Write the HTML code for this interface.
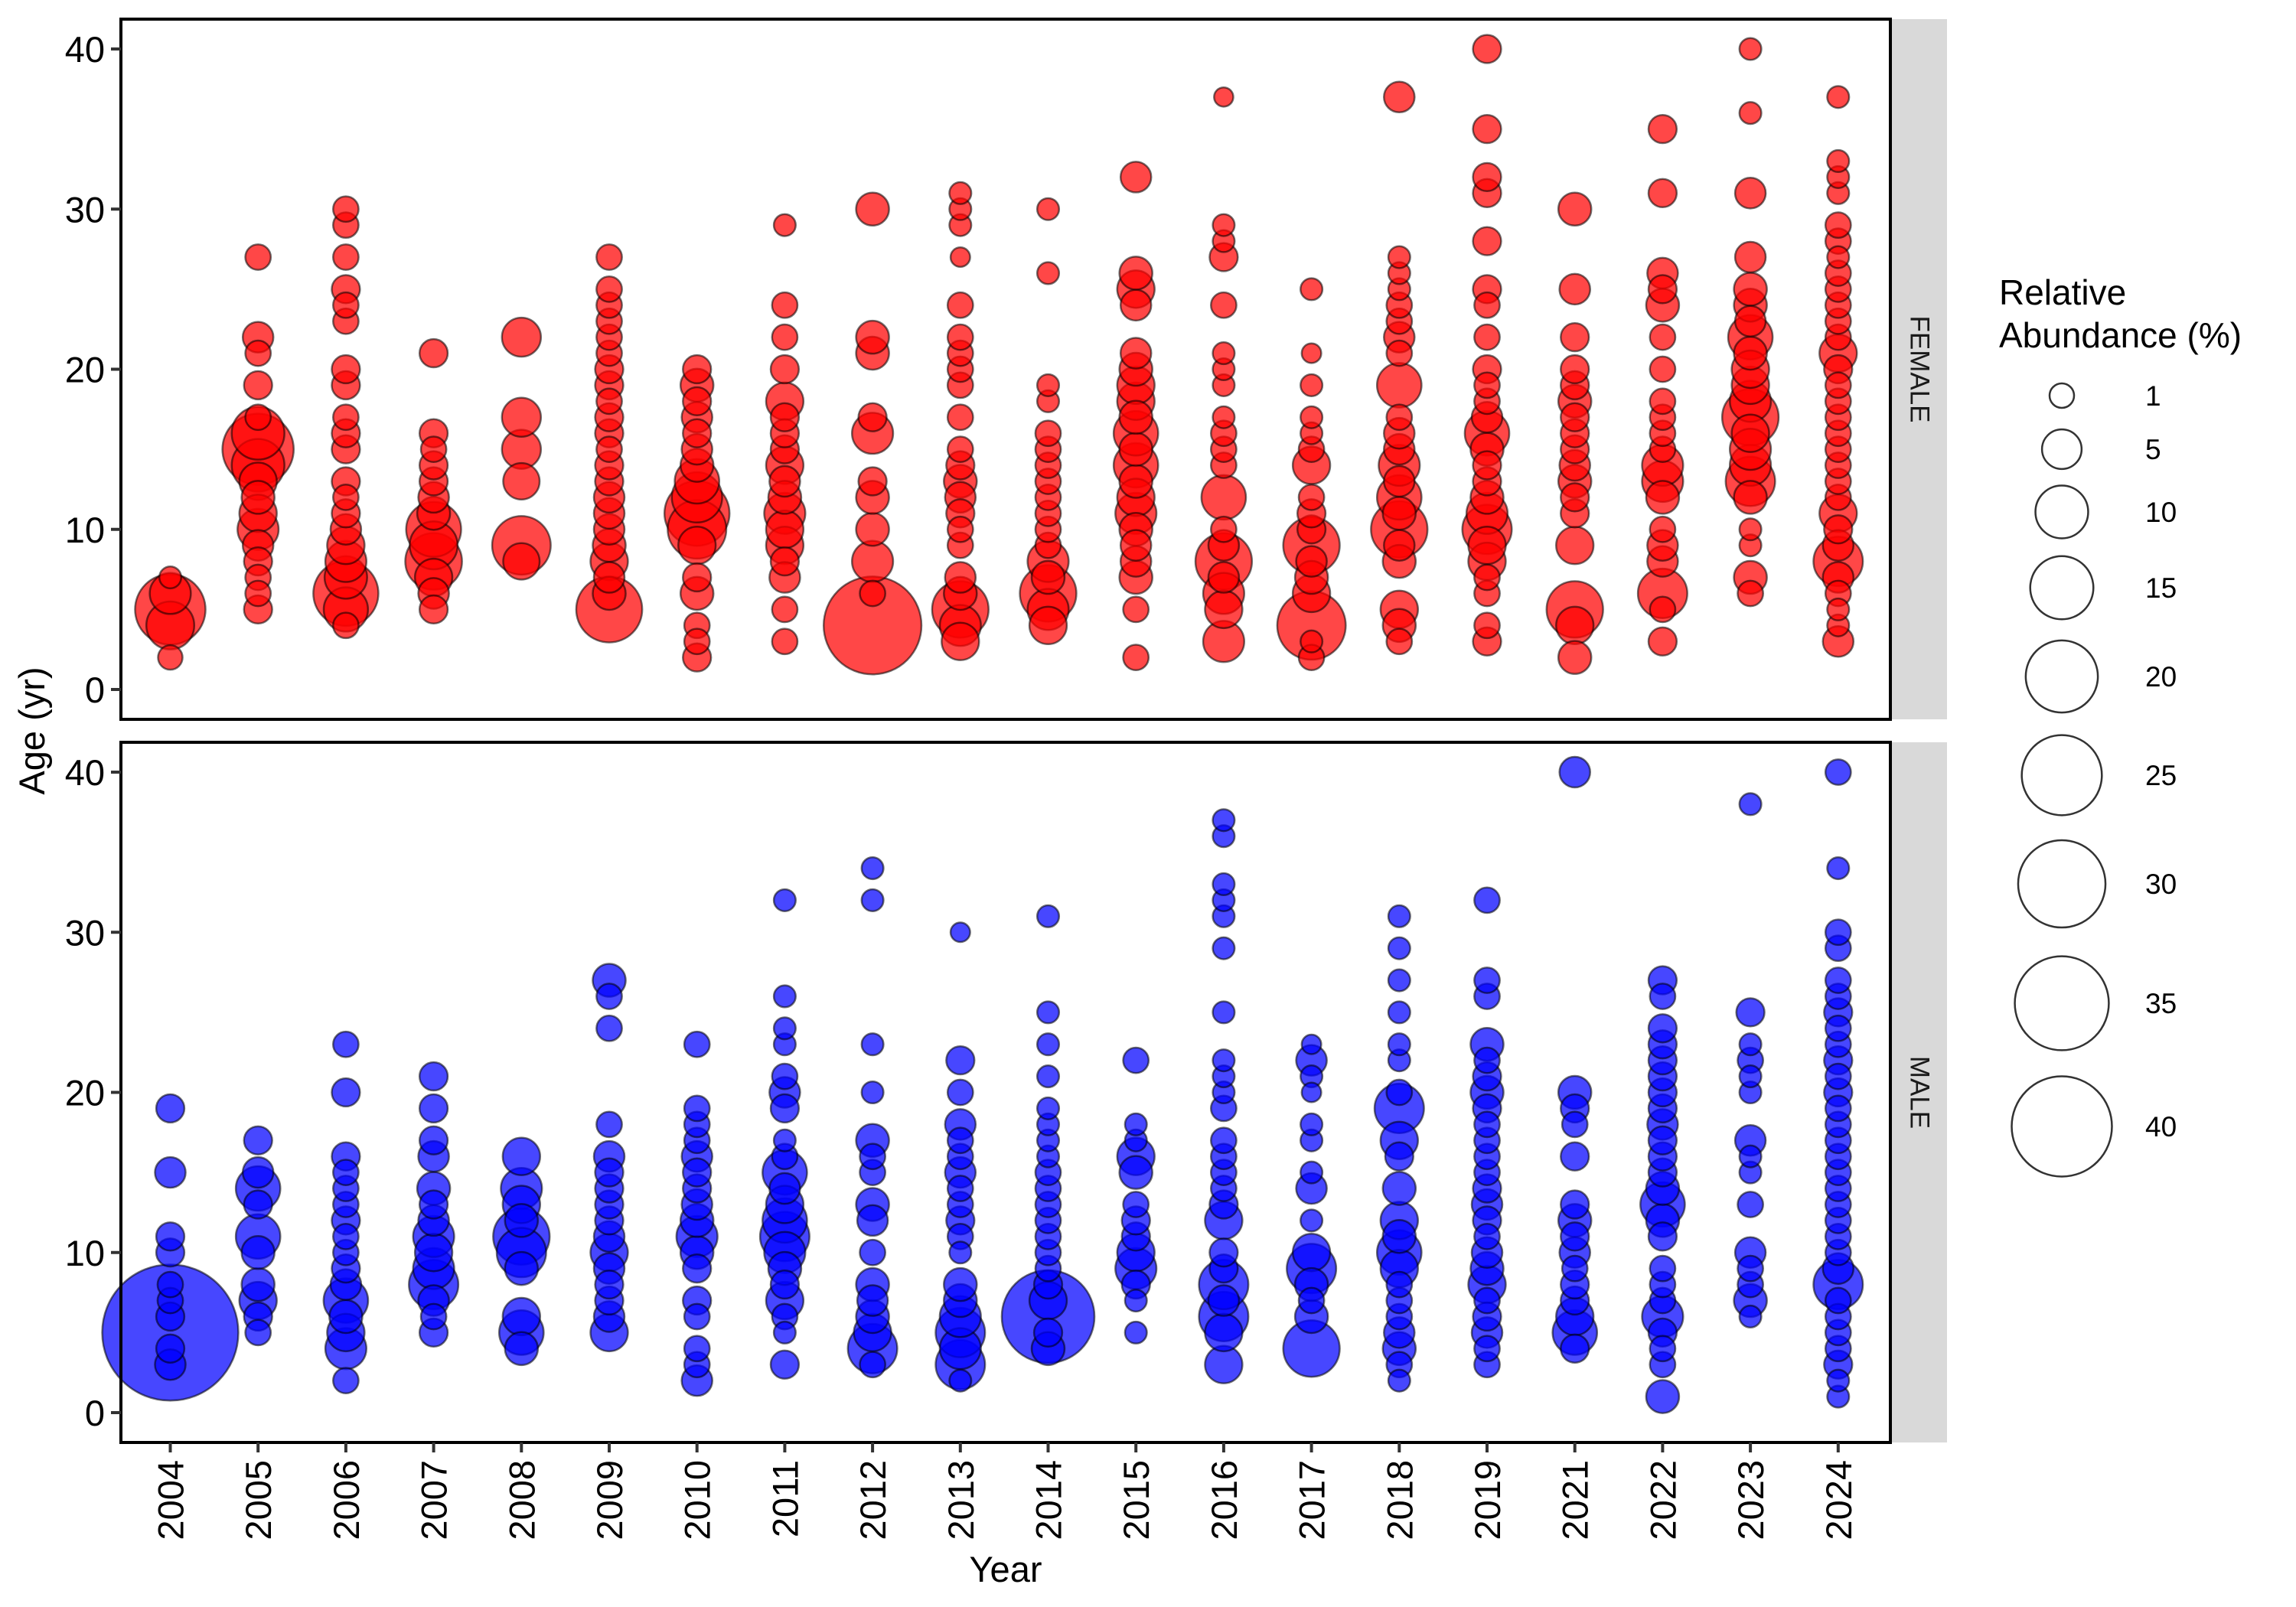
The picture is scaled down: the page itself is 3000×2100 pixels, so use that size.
<!DOCTYPE html>
<html><head><meta charset="utf-8">
<style>
html,body{margin:0;padding:0;background:#fff;}
svg{display:block;font-family:"Liberation Sans",Arial,sans-serif;}
</style></head>
<body>
<svg id="chart" width="3000" height="2100" viewBox="0 0 3000 2100" xmlns="http://www.w3.org/2000/svg">
<rect x="0" y="0" width="3000" height="2100" fill="#fff"/>
<g id="panels"></g>
<g id="axes"></g>
<g id="legend"></g>
</svg>
<script>
const years = ["2004","2005","2006","2007","2008","2009","2010","2011","2012","2013","2014","2015","2016","2017","2018","2019","2021","2022","2023","2024"];
const yTicks = [0,10,20,30,40];
const legendValues = [1,5,10,15,20,25,30,35,40];
const femaleData = [
[[5,19],[6,5.5],[4,8],[2,1],[7,0.5]],
[[15,19.5],[14,10],[16,10],[13,4.3],[10,5.5],[11,4.3],[12,3],[9,2.4],[8,1.8],[7,1.2],[6,1.2],[5,1.8],[17,1.2],[19,1.8],[21,1.2],[22,2.4],[27,1.2]],
[[6,16],[5,6.6],[7,6],[8,5.5],[9,4.3],[10,2.4],[11,1.8],[12,1.2],[13,1.8],[15,1.8],[16,1.8],[17,1.2],[19,1.8],[20,1.8],[23,1.2],[24,1.2],[25,1.8],[27,1.2],[29,1.2],[30,1.2],[4,1.2]],
[[8,11.8],[9,8],[10,11],[7,4.3],[6,2.4],[5,1.8],[11,3],[12,2.4],[13,1.8],[14,1.8],[15,1.2],[16,1.8],[21,1.8]],
[[9,12.7],[8,4],[13,4],[15,4.8],[17,4.8],[22,4.8]],
[[5,16.5],[6,3],[7,2.4],[8,4.3],[9,3],[10,2.4],[11,2.4],[12,2.4],[13,1.8],[14,1.8],[15,1.2],[16,1.8],[17,1.8],[18,1.2],[19,1.8],[20,1.8],[21,1.2],[22,1.2],[23,1.2],[24,1.2],[25,1.2],[27,1.2]],
[[10,12.7],[11,16],[12,9],[13,6.7],[9,4.3],[6,3],[4,1.2],[3,1.2],[2,1.8],[7,1.8],[14,3],[15,2.4],[16,1.8],[17,2.4],[18,1.8],[19,3],[20,1.8]],
[[9,4.3],[10,4.3],[11,5.5],[12,3],[13,2.4],[14,4.3],[15,1.8],[16,1.8],[17,1.8],[18,4.3],[20,1.8],[22,1.2],[24,1.2],[29,0.5],[7,2.4],[5,1.2],[3,1.2],[8,1.8]],
[[4,38],[6,1.2],[8,5.5],[10,3],[12,3],[13,1.8],[16,5.5],[17,1.8],[21,3],[22,3],[30,3]],
[[5,11.7],[4,5.5],[3,4.3],[6,3],[7,2.4],[9,1.2],[10,1.2],[11,1.8],[12,2.4],[13,3],[14,1.8],[15,1.2],[17,1.2],[19,1.2],[20,1.2],[21,1.2],[22,1.2],[24,1.2],[27,0.1],[29,0.5],[30,0.5],[31,0.5]],
[[6,11.7],[5,5.5],[4,4.3],[7,3],[8,5.5],[9,1.2],[10,1.2],[11,1.2],[12,1.2],[13,1.2],[14,1.2],[15,1.2],[16,1.2],[18,0.5],[19,0.5],[26,0.5],[30,0.5]],
[[2,1.2],[5,1.2],[7,3],[8,2.4],[9,2.4],[10,3],[11,5.5],[12,4.3],[13,3],[14,6.7],[15,3],[16,6.7],[17,3],[18,4.3],[19,4.3],[20,3],[21,2.4],[24,2.4],[25,4.3],[26,3],[32,2.4]],
[[3,5.5],[5,4.3],[6,5.5],[7,2.4],[8,11.7],[9,2.4],[10,1.2],[12,6.7],[14,1.2],[15,1.2],[16,1.2],[17,0.5],[19,0.5],[20,0.5],[21,0.5],[24,1.2],[27,1.8],[28,0.5],[29,0.5],[37,0.05]],
[[4,17.9],[2,1.2],[3,0.5],[6,4.3],[7,3],[8,2.4],[9,11.7],[10,1.8],[11,1.8],[12,1.2],[14,4.3],[15,1.2],[16,0.5],[17,0.5],[19,0.5],[21,0.1],[25,0.5]],
[[3,1.2],[4,3],[5,4.3],[8,3],[9,2.4],[10,11.7],[11,3],[12,6.7],[13,2.4],[14,5.5],[15,2.4],[16,2.4],[17,1.2],[19,6.7],[21,1.2],[22,2.4],[23,1.2],[24,1.2],[25,0.5],[26,0.5],[27,0.5],[37,2.4]],
[[3,1.8],[4,1.2],[6,1.2],[7,1.2],[8,4.3],[9,4.3],[10,8.6],[11,5.5],[12,3],[13,1.8],[14,1.8],[15,3],[16,6.7],[17,2.4],[18,1.2],[19,1.2],[20,1.8],[22,1.2],[24,1.2],[25,1.8],[28,1.8],[31,1.8],[32,1.8],[35,1.8],[40,1.8]],
[[2,3],[4,4.3],[5,11.7],[9,4.3],[11,1.8],[12,1.8],[13,3],[14,2.4],[15,1.8],[16,1.8],[17,1.8],[18,3],[19,1.8],[20,1.8],[22,1.8],[25,2.4],[30,3]],
[[3,1.8],[5,1.2],[6,8.6],[8,2.4],[9,2.4],[10,1.2],[12,3],[13,5.5],[14,5.5],[15,1.2],[16,1.2],[17,1.2],[18,1.2],[20,1.2],[22,1.2],[24,3],[25,1.8],[26,2.4],[31,1.8],[35,1.8]],
[[6,1.2],[7,3],[9,0.5],[10,0.5],[12,3],[13,8.6],[14,5.5],[15,5.5],[16,4.3],[17,11.7],[18,5.5],[19,4.3],[20,4.3],[21,3],[22,6.7],[23,2.4],[24,3],[25,3],[27,2.4],[31,2.4],[36,0.5],[40,0.5]],
[[3,2.4],[4,0.5],[5,0.5],[6,1.2],[7,2.4],[8,8.6],[9,2.4],[10,1.8],[11,4.3],[12,1.2],[13,1.2],[14,1.2],[15,1.2],[16,1.2],[17,1.2],[18,1.2],[19,1.2],[20,1.8],[21,4.3],[22,1.2],[23,1.2],[24,1.2],[25,1.2],[26,1.2],[27,0.5],[28,1.2],[29,1.2],[31,0.5],[32,0.5],[33,0.5],[37,0.5]]
];
const maleData = [
[[5,75],[3,2.4],[4,1.8],[6,1.8],[7,1.2],[8,1.2],[10,1.8],[11,1.8],[15,2.4],[19,1.8]],
[[5,1.2],[6,1.8],[7,4.3],[8,3],[10,3],[11,6.7],[13,1.8],[14,6.7],[15,2.4],[17,1.8]],
[[2,1.2],[4,5.5],[5,4.3],[6,3],[7,6.7],[8,2.4],[9,1.8],[10,1.2],[11,1.2],[12,1.8],[13,1.2],[14,1.2],[15,1.2],[16,1.8],[20,1.8],[23,1.2]],
[[5,1.8],[6,1.2],[7,2.4],[8,8.6],[9,5.5],[10,4.3],[11,5.5],[12,2.4],[13,1.8],[14,3],[16,2.4],[17,1.8],[19,1.8],[21,1.8]],
[[4,3],[5,6.7],[6,4.3],[9,3],[10,8.6],[11,11.7],[12,3],[13,4.3],[14,5.5],[16,4.3]],
[[5,4.3],[6,2.4],[7,1.8],[8,1.8],[9,2.4],[10,4.3],[11,2.4],[12,1.8],[13,1.8],[14,1.8],[15,1.8],[16,2.4],[18,1.2],[24,1.2],[26,1.2],[27,3]],
[[2,2.4],[3,1.2],[4,1.2],[6,1.2],[7,1.8],[9,1.8],[10,3],[11,5.5],[12,3],[13,2.4],[14,1.8],[15,1.8],[16,2.4],[17,1.2],[18,1.2],[19,1.2],[23,1.2]],
[[3,1.8],[5,0.5],[6,1.2],[7,4.3],[8,1.8],[9,3],[10,5.5],[11,8.6],[12,6.7],[13,4.3],[14,2.4],[15,6.7],[16,1.2],[17,0.5],[19,1.8],[20,2.4],[21,1.2],[23,0.5],[24,0.5],[26,0.5],[32,0.5]],
[[3,1.2],[4,8.6],[5,4.3],[6,3],[7,2.4],[8,3],[10,1.2],[12,2.4],[13,3],[15,1.2],[16,1.2],[17,3],[20,0.5],[23,0.5],[32,0.5],[34,0.5]],
[[2,0.5],[3,8.6],[4,5.5],[5,8.6],[6,5.5],[7,3],[8,3],[10,0.5],[11,1.2],[12,1.8],[13,1.2],[14,1.2],[15,2.4],[16,1.2],[17,1.2],[18,2.4],[20,1.2],[22,1.8],[30,0.1]],
[[6,34],[4,3],[5,1.8],[7,4.3],[8,1.8],[9,1.2],[10,1.2],[11,1.2],[12,1.2],[13,1.2],[14,1.2],[15,1.2],[16,0.5],[17,0.5],[18,0.5],[19,0.5],[21,0.5],[23,0.5],[25,0.5],[31,0.5]],
[[5,0.5],[7,0.5],[8,1.8],[9,5.5],[10,4.3],[11,1.8],[12,1.8],[13,1.2],[15,3],[16,4.3],[17,0.5],[18,0.5],[22,1.2]],
[[3,4.3],[5,4.3],[6,8.6],[7,2.4],[8,8.6],[9,1.8],[10,1.8],[12,4.3],[13,1.8],[14,1.2],[15,1.2],[16,1.2],[17,1.2],[19,1.2],[20,0.5],[21,0.5],[22,0.5],[25,0.5],[29,0.5],[31,0.5],[32,0.5],[33,0.5],[36,0.5],[37,0.5]],
[[4,11.7],[6,3],[7,1.2],[8,3],[9,8.6],[10,4.3],[12,0.5],[14,2.4],[15,0.5],[17,0.5],[18,0.5],[20,0.1],[21,0.5],[22,2.4],[23,0.1]],
[[2,0.5],[3,1.2],[4,3],[5,2.4],[6,1.2],[7,1.2],[8,1.2],[9,4.3],[10,6.7],[11,3],[12,4.3],[14,3],[16,1.8],[17,4.3],[19,8.6],[20,1.2],[22,0.5],[23,0.5],[25,0.5],[27,0.5],[29,0.5],[31,0.5]],
[[3,1.2],[4,1.2],[5,2.4],[6,1.8],[7,1.2],[8,4.3],[9,3],[10,2.4],[11,1.2],[12,1.8],[13,2.4],[14,1.8],[15,1.2],[16,1.2],[17,1.2],[18,1.2],[19,1.8],[20,3],[21,1.8],[22,1.2],[23,3],[26,1.2],[27,1.2],[32,1.2]],
[[4,1.8],[5,6.7],[6,4.3],[7,1.8],[8,1.8],[9,1.2],[10,2.4],[11,1.8],[12,3],[13,1.8],[16,1.8],[18,1.2],[19,1.8],[20,3],[40,2.4]],
[[1,3],[3,1.2],[4,1.2],[5,1.8],[6,5.5],[7,1.2],[8,1.2],[9,1.2],[11,1.8],[12,3],[13,6.7],[14,3],[15,1.8],[16,1.8],[17,1.8],[18,2.4],[19,1.8],[20,1.8],[21,1.8],[22,1.8],[23,1.8],[24,1.8],[26,1.2],[27,1.8]],
[[6,0.5],[7,3],[8,1.2],[9,1.2],[10,2.4],[13,1.2],[15,0.5],[16,0.5],[17,2.4],[20,0.5],[21,0.5],[22,1.2],[23,0.5],[25,1.8],[38,0.5]],
[[1,0.5],[2,0.5],[3,1.8],[4,1.2],[5,1.2],[6,1.2],[7,1.2],[8,8.6],[9,2.4],[10,1.2],[11,1.2],[12,1.2],[13,1.2],[14,1.2],[15,1.2],[16,1.2],[17,1.2],[18,1.2],[19,1.2],[20,1.8],[21,1.2],[22,1.8],[23,1.2],[24,1.2],[25,1.8],[26,1.2],[27,1.2],[29,1.2],[30,1.2],[34,0.5],[40,1.2]]
];

const NS = "http://www.w3.org/2000/svg";
function mk(tag, attrs, parent){ const e=document.createElementNS(NS,tag); for(const k in attrs) e.setAttribute(k,attrs[k]); if(parent) parent.appendChild(e); return e; }
const X0=158, X1=2470;
const xScale = i => 222.5 + i*114.7;
const panelsDef = [
  {name:"female", label:"FEMALE", top:25, bottom:940, data:femaleData, fill:"rgba(255,0,0,0.72)"},
  {name:"male", label:"MALE", top:970, bottom:1885, data:maleData, fill:"rgba(0,0,255,0.72)"}
];
const rScale = v => Math.sqrt(152.6 + 103.4*v);
const gP = document.getElementById("panels");
const gA = document.getElementById("axes");
panelsDef.forEach(p=>{
  const yScale = a => (p.bottom-39) - a*((p.bottom-p.top-78)/40);
  const g = mk("g",{},gP);
  
  
  const pts=[];
  p.data.forEach((col,i)=>col.forEach(d=>pts.push({i,a:d[0],v:d[1]})));
  pts.sort((a,b)=>b.v-a.v);
  pts.forEach(d=>{
    const c = mk("circle",{cx:xScale(d.i),cy:yScale(d.a),r:rScale(d.v),fill:p.fill,stroke:"rgba(0,0,0,0.55)","stroke-width":2.5},g);
    
    
  });
  const border = mk("rect",{x:X0,y:p.top,width:X1-X0,height:p.bottom-p.top,fill:"none",stroke:"#000","stroke-width":4},g);
  
  
  const strip = mk("rect",{x:X1+2,y:p.top,width:72,height:p.bottom-p.top,fill:"#d9d9d9"},g);
  
  
  const cy=(p.top+p.bottom)/2;
  const st = mk("text",{x:X1+38,y:cy,transform:`rotate(90 ${X1+38} ${cy})`,"text-anchor":"middle","dominant-baseline":"central","font-size":35,fill:"#1a1a1a"},g);
  st.textContent=p.label;
  
  
  yTicks.forEach(t=>{
    const y=yScale(t);
    const tk = mk("line",{x1:X0-13,x2:X0,y1:y,y2:y,stroke:"#333","stroke-width":4},gA);
    
    
    const tl = mk("text",{x:137,y:y+17,"text-anchor":"end","font-size":47,fill:"#000"},gA);
    tl.textContent=t;
    
    
  });
});
years.forEach((yr,i)=>{
  const x=xScale(i);
  const tk = mk("line",{x1:x,x2:x,y1:1885,y2:1898,stroke:"#333","stroke-width":4},gA);
  
  
  const tl = mk("text",{x:x+17,y:1908,transform:`rotate(-90 ${x+17} 1908)`,"text-anchor":"end","font-size":47,fill:"#000"},gA);
  tl.textContent=yr;
  
  
});
const xt = mk("text",{x:1314,y:2067,"text-anchor":"middle","font-size":47,fill:"#000"},gA);
xt.textContent="Year";


const yt = mk("text",{x:58,y:955,transform:"rotate(-90 58 955)","text-anchor":"middle","font-size":47,fill:"#000"},gA);
yt.textContent="Age (yr)";



const gL = document.getElementById("legend");
const t1 = mk("text",{x:2612,y:398,"font-size":46,fill:"#000"},gL);
t1.textContent="Relative";


const t2 = mk("text",{x:2612,y:454,"font-size":46,fill:"#000"},gL);
t2.textContent="Abundance (%)";


const legendY = [517,587,669,768,884,1013,1155,1311,1472];
legendValues.forEach((v,k)=>{
  const c = mk("circle",{cx:2694,cy:legendY[k],r:rScale(v),fill:"none",stroke:"#333","stroke-width":2.5},gL);
  
  
  const t = mk("text",{x:2803,y:legendY[k]+13,"font-size":37,fill:"#000"},gL);
  t.textContent=v;
  
  
});
</script>
</body></html>
